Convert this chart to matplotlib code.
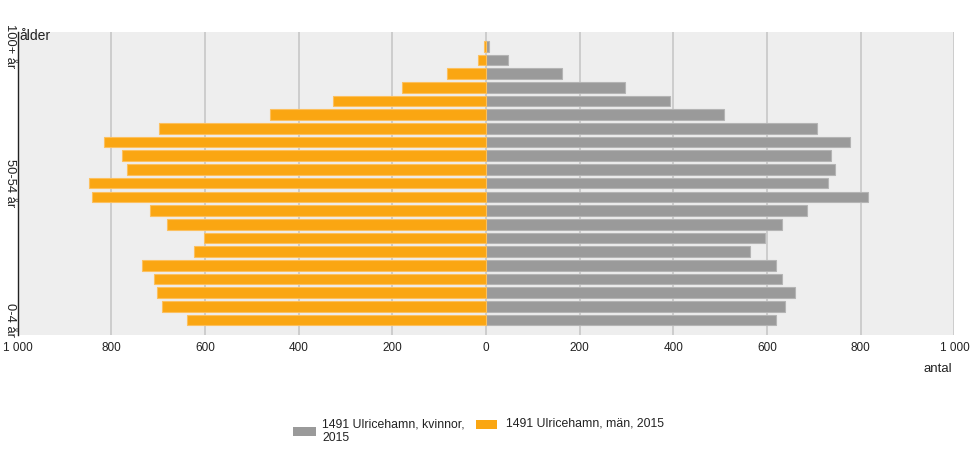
import matplotlib
matplotlib.use("Agg")
import matplotlib.pyplot as plt
from matplotlib.patches import Rectangle
from matplotlib.ticker import FuncFormatter

plt.rcParams['font.family'] = ['Liberation Sans', 'DejaVu Sans']

age_groups = ["0-4 år", "5-9 år", "10-14 år", "15-19 år", "20-24 år", "25-29 år",
              "30-34 år", "35-39 år", "40-44 år", "45-49 år", "50-54 år", "55-59 år",
              "60-64 år", "65-69 år", "70-74 år", "75-79 år", "80-84 år", "85-89 år",
              "90-94 år", "95-99 år", "100+ år"]
women = [618, 639, 660, 632, 618, 564, 595, 632, 686, 815, 729, 745,
         736, 778, 707, 508, 393, 297, 163, 48, 6]
men = [638, 692, 703, 708, 734, 623, 602, 680, 717, 840, 847, 766,
       778, 815, 698, 461, 326, 180, 84, 18, 4]
shown_labels = ["0-4 år", "50-54 år", "100+ år"]
xticks = [-1000, -800, -600, -400, -200, 0, 200, 400, 600, 800, 1000]

W, H = 979, 450
fig = plt.figure(figsize=(W / 100, H / 100), dpi=100)
ax = fig.add_axes([17.5 / W, (H - 335) / H, (954.5 - 17.5) / W, (335 - 32) / H])
ax.set_facecolor('#eeeeee')

gray = '#9a9a9a'
orange = '#faa612'
pos = list(range(len(age_groups)))
ax.barh(pos, women, height=0.78, color=gray, edgecolor='#b4b4b4', linewidth=0.8, zorder=3)
ax.barh(pos, [-m for m in men], height=0.78, color=orange, edgecolor='#fcc05e', linewidth=0.8, zorder=3)

ax.set_xlim(-1000, 1000)
ax.set_ylim(-1.1, 21.05)
ax.set_xticks(xticks)
ax.xaxis.set_major_formatter(FuncFormatter(
    lambda v, p: f"{abs(int(v)):,}".replace(",", " ")))
ax.grid(axis='x', color='#c4c4c4', linewidth=1.1, zorder=1)
ax.set_axisbelow(True)

ax.set_yticks([age_groups.index(l) for l in shown_labels])
ax.set_yticklabels(shown_labels, rotation=270, va='center', fontsize=9.3, color='#222222')
ax.tick_params(axis='y', length=0, pad=1)
ax.tick_params(axis='x', length=0, pad=5, labelsize=8.5, labelcolor='#222222')

for s in ['top', 'right', 'bottom']:
    ax.spines[s].set_visible(False)
ax.spines['left'].set_color('#222222')
ax.spines['left'].set_linewidth(1)

fig.text(19.5 / W, 1 - 36 / H, "ålder", fontsize=10, color='#222222', va='center', ha='left')
fig.text(952 / W, 1 - 369 / H, "antal", fontsize=9.5, color='#222222', va='center', ha='right')

# legend
fig.patches.append(Rectangle((293 / W, 1 - 436 / H), 23 / W, 9 / H, transform=fig.transFigure,
                             facecolor=gray, edgecolor='none'))
fig.text(322 / W, 1 - 431 / H, "1491 Ulricehamn, kvinnor,\n2015", fontsize=8.8,
         color='#222222', va='center', ha='left', linespacing=1.2)
fig.patches.append(Rectangle((476 / W, 1 - 429 / H), 21 / W, 9 / H, transform=fig.transFigure,
                             facecolor=orange, edgecolor='none'))
fig.text(506 / W, 1 - 424 / H, "1491 Ulricehamn, män, 2015", fontsize=8.8,
         color='#222222', va='center', ha='left')

fig.savefig("out.png", dpi=100)
